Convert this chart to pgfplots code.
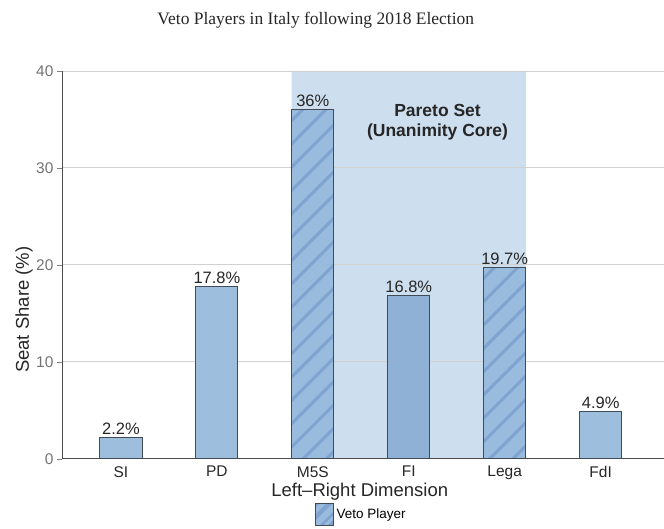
\documentclass[border=0pt]{standalone}
\usepackage{pgfplots}
\pgfplotsset{compat=1.18}
\usepackage{fontspec}
\setmainfont{Liberation Sans}
\newfontfamily\titlefont{Liberation Serif}
\usetikzlibrary{patterns.meta}
\definecolor{barblue}{RGB}{158,190,222}
\definecolor{barin}{RGB}{142,177,213}
\definecolor{hatchbase}{RGB}{152,187,222}
\definecolor{stripe}{RGB}{126,164,207}
\definecolor{shade}{RGB}{205,222,238}
\definecolor{edge}{RGB}{65,75,88}
\pgfplotsset{
  mybar/.style={ybar, bar shift=0pt, bar width=0.44, draw=edge, line width=1pt,
    nodes near coords={\pgfmathprintnumber{\pgfplotspointmeta}\%},
    every node near coord/.append style={font=\fontsize{16.5bp}{19bp}\selectfont, text=black!85, yshift=-1bp}},
}
\begin{document}
\begin{tikzpicture}
\path (-62bp,-66bp) rectangle (602bp,459bp);
\begin{axis}[
  set layers,
  at={(0,0)}, anchor=south west,
  scale only axis,
  width=602bp, height=388bp,
  xmin=-0.615, xmax=5.656,
  ymin=0, ymax=40,
  axis x line=bottom, axis y line=left,
  axis line style={-, draw=black!70, line width=0.9pt},
  xtick={0,1,2,3,4,5},
  xticklabels={SI,PD,M5S,FI,Lega,FdI},
  ytick={0,10,20,30,40},
  major x tick style={draw=none},
  tick align=outside,
  major tick length=5bp,
  ymajorgrids,
  grid style={draw=black!18, line width=0.8pt},
  /pgf/number format/assume math mode=true,
  xticklabel style={font=\fontsize{15.5bp}{18bp}\selectfont, text=black!85, yshift=1bp},
  yticklabel style={font=\fontsize{15.5bp}{18bp}\selectfont, text=black!55},
  legend style={at={(0.497,-0.144)}, anchor=center, draw=none, fill=none,
    font=\fontsize{13.5bp}{16bp}\selectfont},
]
\addplot[fill=shade, draw=none, on layer=axis background, forget plot]
  coordinates {(1.78,0) (1.78,40) (4.22,40) (4.22,0)} \closedcycle;
\addplot[mybar, fill=barblue, forget plot]
  coordinates {(0,2.2) (1,17.8) (5,4.9)};
\addplot[mybar, fill=barin, forget plot]
  coordinates {(3,16.8)};
\addplot[mybar, fill=hatchbase,
  postaction={pattern={Lines[angle=45,distance=16.5bp,line width=3bp]}, pattern color=stripe},
  legend image code/.code={
    \draw[fill=hatchbase, draw=none, postaction={pattern={Lines[angle=45,distance=9bp,line width=2.5bp]}, pattern color=stripe}] (0bp,-11bp) rectangle (18bp,11bp);}]
  coordinates {(2,36) (4,19.7)};
\addlegendentry{Veto Player}
\node[font=\fontsize{17.5bp}{20bp}\selectfont\bfseries, align=center, text=black!85] at (axis cs:3.30,34.7) {Pareto Set\\(Unanimity Core)};
\end{axis}
\node[font=\titlefont\fontsize{17.5bp}{20bp}\selectfont, text=black!85] at (254bp,439bp) {Veto Players in Italy following 2018 Election};
\node[font=\fontsize{18.5bp}{21bp}\selectfont, rotate=90, text=black!85] at (-38bp,149bp) {Seat Share (\%)};
\node[font=\fontsize{18.5bp}{21bp}\selectfont, text=black!85] at (298bp,-33bp) {Left--Right Dimension};
\end{tikzpicture}
\end{document}
